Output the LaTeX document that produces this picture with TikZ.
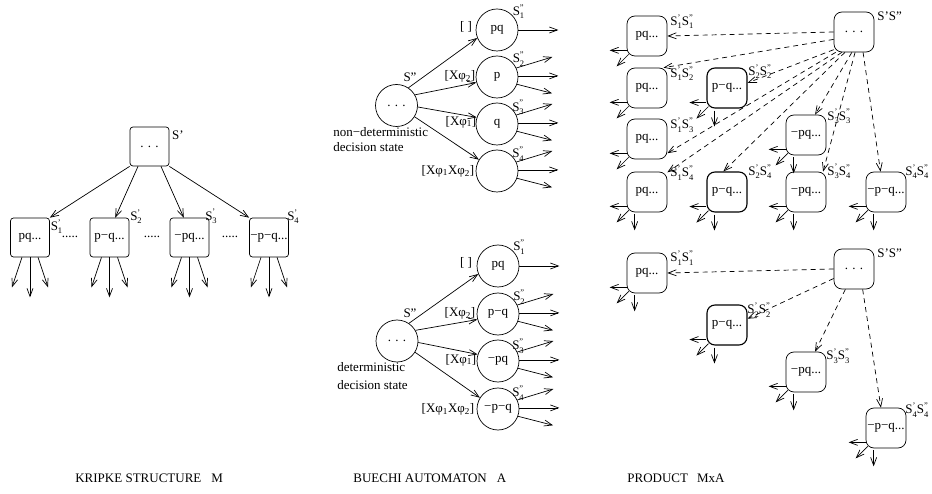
\documentclass[tikz,border=0pt]{standalone}
\usepackage{fontspec}
\setmainfont{Liberation Serif}
\usepackage{tikz}
\usetikzlibrary{arrows.meta, calc}

% S voi dau phay tren va chi so duoi xep chong
\newcommand{\Sl}[2]{S\raisebox{-3.5pt}{\fontsize{8.5}{7.5}\selectfont\shortstack[l]{#1\\#2}}}

\begin{document}
\begin{tikzpicture}[x=1pt, y=-1pt, line width=0.7pt,
    >={Straight Barb[length=8pt,width=6pt]},
    every node/.style={font=\fontsize{13}{15}\selectfont, inner sep=0pt},
    kbox/.style={draw, rectangle, rounded corners=3pt, minimum size=39pt},
    pbox/.style={draw, rectangle, rounded corners=8pt, minimum size=40pt},
    bstate/.style={draw, circle, minimum size=42pt},
    dasharrow/.style={->, dash pattern=on 5pt off 4pt}]
    \useasboundingbox (0,0) rectangle (932,494);

    % Cau truc Kripke M
    \node[kbox] (kS) at (149.5,146.5) {. . .};
    \node (lkS) at (178,135) {S'};
    \node[kbox] (k1) at (30,237.5) {pq...};
    \node[kbox] (k2) at (109.5,237.5) {p−q...};
    \node[kbox] (k3) at (189.5,237.5) {−pq...};
    \node[kbox] (k4) at (269,237.5) {−p−q...};
    \node (lk1) at (56.5,226.5) {\Sl{'}{1}};
    \node (lk2) at (136,216.5) {\Sl{'}{2}};
    \node (lk3) at (211,216.5) {\Sl{'}{3}};
    \node (lk4) at (293,216.5) {\Sl{'}{4}};
    \node (dk1) at (70,237) {.....};
    \node (dk2) at (152,237) {.....};
    \node (dk3) at (230,237) {.....};
    \draw[->] (kS.south west) -- (k1.north east);
    \draw[->] (kS.-120) -- (k2.74);
    \draw[->] (kS.-60) -- (k3.106);
    \draw[->] (kS.south east) -- (k4.north west);
    \foreach \k in {k1,k2,k3,k4} {
        \draw[->] ([shift={(-8,0)}]\k.south) -- ++(-10,30);
        \draw[->] (\k.south) -- ++(0,40);
        \draw[->] ([shift={(8,0)}]\k.south) -- ++(10,30);
    }

    % Automat Buechi: trang thai quyet dinh khong tat dinh
    \node[bstate] (bS) at (396.5,105.5) {. . .};
    \node (lbS) at (410,77) {S''};
    \node[bstate] (bt1) at (497,30) {pq};
    \node[bstate] (bt2) at (497,77) {p};
    \node[bstate] (bt3) at (497,124) {q};
    \node[bstate] (bt4) at (497,171) {};
    \node (lbt1) at (518.5,11.5) {\Sl{''}{1}};
    \node (lbt2) at (518.5,59) {\Sl{''}{2}};
    \node (lbt3) at (518,107.5) {\Sl{''}{3}};
    \node (lbt4) at (518,154) {\Sl{''}{4}};
    \node (gt1) at (466,27) {[ ]};
    \node (gt2) at (460,76) {[Xφ\textsubscript{2}]};
    \node (gt3) at (461,122) {[Xφ\textsubscript{1}]};
    \node (gt4) at (448,171) {[Xφ\textsubscript{1}Xφ\textsubscript{2}]};
    \node[anchor=west] (nt1) at (333,132) {non−deterministic};
    \node[anchor=west] (nt2) at (333,147) {decision state};
    \draw[->] (bS.56) -- (bt1.202);
    \draw[->] (bS.30) -- (bt2.195);
    \draw[->] (bS.-4) -- (bt3.162);
    \draw[->] (bS.-32) -- (bt4.148);

    % Automat Buechi: trang thai quyet dinh tat dinh
    \node[bstate] (bD) at (397,341) {. . .};
    \node (lbD) at (410,313) {S''};
    \node[bstate] (bb1) at (498,266) {pq};
    \node[bstate] (bb2) at (498,314) {p−q};
    \node[bstate] (bb3) at (498,361) {−pq};
    \node[bstate] (bb4) at (498,409) {−p−q};
    \node (lbb1) at (519,247) {\Sl{''}{1}};
    \node (lbb2) at (519,297) {\Sl{''}{2}};
    \node (lbb3) at (518,346) {\Sl{''}{3}};
    \node (lbb4) at (518,393) {\Sl{''}{4}};
    \node (gb1) at (466,263) {[ ]};
    \node (gb2) at (460,313) {[Xφ\textsubscript{2}]};
    \node (gb3) at (461,360) {[Xφ\textsubscript{1}]};
    \node (gb4) at (448,409) {[Xφ\textsubscript{1}Xφ\textsubscript{2}]};
    \node[anchor=west] (nb1) at (337,367) {deterministic};
    \node[anchor=west] (nb2) at (337,385) {decision state};
    \draw[->] (bD.56) -- (bb1.202);
    \draw[->] (bD.30) -- (bb2.195);
    \draw[->] (bD.-4) -- (bb3.162);
    \draw[->] (bD.-32) -- (bb4.148);

    % Cac cung di ra cua automat
    \draw[->] (bt1.east) -- ++(40,0);
    \draw[->] (bb1.east) -- ++(40,0);
    \foreach \c in {bt2,bt3,bt4,bb2,bb3,bb4} {
        \draw[->] (\c.25) -- ++(36,-11);
        \draw[->] (\c.3) -- ++(40,0);
        \draw[->] (\c.-20) -- ++(35,9);
    }

    % Tich MxA: truong hop khong tat dinh
    \node[pbox] (pS) at (854,32) {. . .};
    \node[anchor=west] (lpS) at (877,16) {S'S''};
    \node[pbox] (p11) at (647,36) {pq...};
    \node[pbox] (p12) at (647,88) {pq...};
    \node[pbox] (p13) at (647,139) {pq...};
    \node[pbox] (p14) at (647,192) {pq...};
    \node[pbox, line width=1.1pt] (p22) at (727,88) {p−q...};
    \node[pbox, line width=1.1pt] (p24) at (727,192) {p−q...};
    \node[pbox] (p33) at (806,135) {−pq...};
    \node[pbox] (p34) at (806,192) {−pq...};
    \node[pbox] (p44) at (886,192) {−p−q...};
    \node[anchor=west] (lp11) at (670,21.5) {\Sl{'}{1}\Sl{''}{1}};
    \node[anchor=west] (lp12) at (670,73.5) {\Sl{'}{1}\Sl{''}{2}};
    \node[anchor=west] (lp13) at (670,125) {\Sl{'}{1}\Sl{''}{3}};
    \node[anchor=west] (lp14) at (670,173) {\Sl{'}{1}\Sl{''}{4}};
    \node[anchor=west] (lp22) at (748,71.5) {\Sl{'}{2}\Sl{''}{2}};
    \node[anchor=west] (lp24) at (748,171.5) {\Sl{'}{2}\Sl{''}{4}};
    \node[anchor=west] (lp33) at (827,116.5) {\Sl{'}{3}\Sl{''}{3}};
    \node[anchor=west] (lp34) at (827,171.5) {\Sl{'}{3}\Sl{''}{4}};
    \node[anchor=west] (lp44) at (905,171.5) {\Sl{'}{4}\Sl{''}{4}};
    \draw[dasharrow] (pS.west) -- (p11.east);
    \draw[dasharrow] (pS.200) -- (p12.51);
    \draw[dasharrow] (pS.221) -- (p22.14);
    \draw[dasharrow] (pS.228) -- (p13.-35);
    \draw[dasharrow] (pS.239) -- (p14.44);
    \draw[dasharrow] (pS.246) -- (p24.100);
    \draw[dasharrow] (pS.264) -- (p33.66);
    \draw[dasharrow] (pS.273) -- (p34.50);
    \draw[dasharrow] (pS.294) -- (p44.105);

    % Tich MxA: truong hop tat dinh
    \node[pbox] (qS) at (854,269) {. . .};
    \node[anchor=west] (lqS) at (877,253) {S'S''};
    \node[pbox] (q11) at (647,273) {pq...};
    \node[pbox, line width=1.1pt] (q22) at (727,325) {p−q...};
    \node[pbox] (q33) at (806,372) {−pq...};
    \node[pbox] (q44) at (886,428) {−p−q...};
    \node[anchor=west] (lq11) at (670,258) {\Sl{'}{1}\Sl{''}{1}};
    \node[anchor=west] (lq22) at (747,310) {\Sl{'}{2}\Sl{''}{2}};
    \node[anchor=west] (lq33) at (826,356) {\Sl{'}{3}\Sl{''}{3}};
    \node[anchor=west] (lq44) at (905,410) {\Sl{'}{4}\Sl{''}{4}};
    \draw[dasharrow] (qS.west) -- (q11.east);
    \draw[dasharrow] (qS.205) -- (q22.17);
    \draw[dasharrow] (qS.247) -- (q33.66);
    \draw[dasharrow] (qS.293) -- (q44.104);

    % Cac cung ngan di ra tu moi trang thai tich
    \foreach \b in {p11,p12,p13,p14,p22,p24,p33,p34,p44,q11,q22,q33,q44} {
        \draw[->] ([shift={(0,-6)}]\b.south west) -- ++(-17,0);
        \draw[->] ([shift={(2,-2)}]\b.south west) -- ++(-12,12);
    }
    \foreach \b in {p14,p22,p24,p33,p34,p44,q11,q22,q33,q44} {
        \draw[->] ([shift={(8,2)}]\b.south west) -- ++(0,16);
    }

    % Tieu de
    \node[anchor=west] (tK) at (75,478) {KRIPKE STRUCTURE\hspace{10pt}M};
    \node[anchor=west] (tB) at (353,478) {BUECHI AUTOMATON\hspace{10pt}A};
    \node[anchor=west] (tP) at (627,478) {PRODUCT\hspace{9pt}MxA};
\end{tikzpicture}
\end{document}
